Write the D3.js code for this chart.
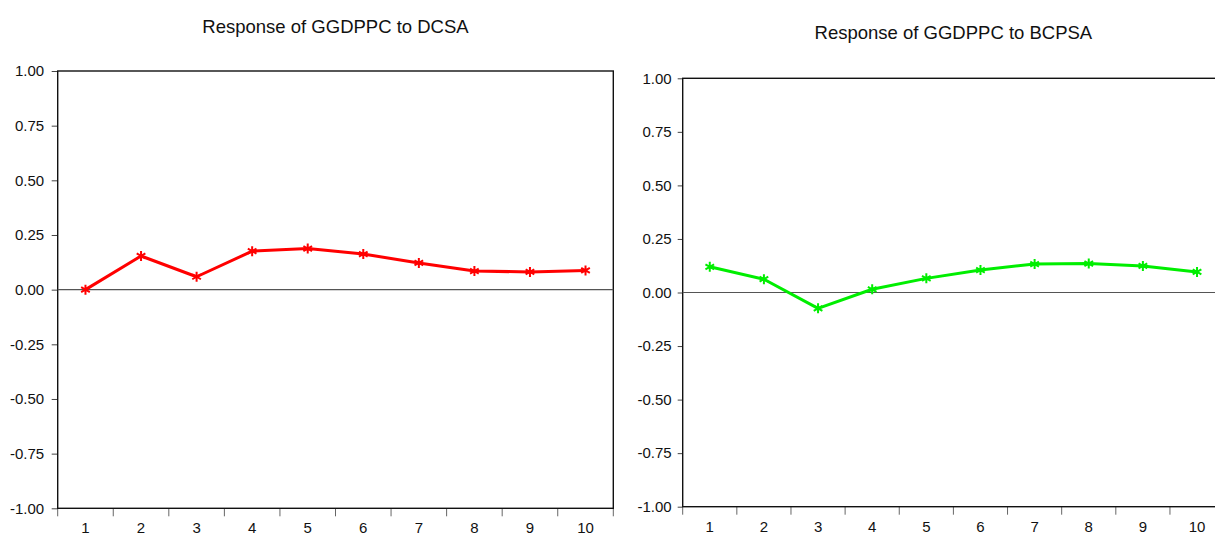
<!DOCTYPE html>
<html>
<head>
<meta charset="utf-8">
<script src="https://cdn.jsdelivr.net/npm/d3@7"></script>
<style>
  body { margin: 0; background: #fff; }
  svg { display: block; }
  text { font-family: "Liberation Sans", Arial, sans-serif; fill: #111; }
</style>
</head>
<body>
<div id="vis"></div>
<script>
const WIDTH = 1215;
const HEIGHT = 537;

// periodos del impulso-respuesta
const periodos = [1, 2, 3, 4, 5, 6, 7, 8, 9, 10];
const ticksY = [1.00, 0.75, 0.50, 0.25, 0.00, -0.25, -0.50, -0.75, -1.00];

// respuesta de GGDPPC a DCSA (rojo) y a BCPSA (verde)
const respuestaDCSA = [0.000, 0.154, 0.059, 0.176, 0.188, 0.163, 0.122, 0.085, 0.081, 0.088];
const respuestaBCPSA = [0.120, 0.062, -0.074, 0.015, 0.066, 0.105, 0.133, 0.135, 0.124, 0.096];

const SVG = d3.select("#vis").append("svg")
  .attr("width", WIDTH)
  .attr("height", HEIGHT);

// formato con guion normal, no el signo menos unicode
const formato = d => d3.format(".2f")(d).replace("\u2212", "-");

function panel(cfg) {
  const x = d3.scaleBand()
    .domain(periodos)
    .range([cfg.left, cfg.right]);

  const y = d3.scaleLinear()
    .domain([-1, 1])
    .range([cfg.bottom, cfg.top]);

  const g = SVG.append("g");

  // titulo
  g.append("text")
    .attr("x", (cfg.left + cfg.right) / 2)
    .attr("y", cfg.tituloY)
    .attr("text-anchor", "middle")
    .style("font-size", "18.5px")
    .text(cfg.titulo);

  // eje y con ticks hacia afuera
  const ejeY = g.append("g")
    .attr("transform", `translate(${cfg.left},0)`)
    .call(d3.axisLeft(y).tickValues(ticksY).tickFormat(formato)
      .tickSize(cfg.tickY).tickPadding(cfg.padY));
  ejeY.select(".domain").remove();
  ejeY.selectAll("line").attr("stroke", "#444");
  ejeY.selectAll("text")
    .style("font-size", "15px")
    .style("font-family", "'Liberation Sans', Arial, sans-serif");

  // ticks del eje x en los bordes de cada banda
  const bordes = periodos.map(p => x(p)).concat([x(periodos[periodos.length - 1]) + x.bandwidth()]);
  g.selectAll(".tickx")
    .data(bordes)
    .join("line")
    .attr("x1", d => d).attr("x2", d => d)
    .attr("y1", cfg.bottom).attr("y2", cfg.bottom + 8)
    .attr("stroke", "#666")
    .attr("stroke-width", 1);

  g.selectAll(".labelx")
    .data(periodos)
    .join("text")
    .attr("x", d => x(d) + x.bandwidth() / 2)
    .attr("y", cfg.labelXY)
    .attr("text-anchor", "middle")
    .style("font-size", "15px")
    .text(d => d);

  // marco
  g.append("rect")
    .attr("x", cfg.left).attr("y", cfg.top)
    .attr("width", cfg.right - cfg.left)
    .attr("height", cfg.bottom - cfg.top)
    .attr("fill", "none")
    .attr("stroke", "#111")
    .attr("stroke-width", 1.4);

  // linea del cero
  g.append("line")
    .attr("x1", cfg.left).attr("x2", cfg.right)
    .attr("y1", y(0)).attr("y2", y(0))
    .attr("stroke", "#555")
    .attr("stroke-width", 1.2);

  const linea = d3.line()
    .x((d, i) => x(periodos[i]) + x.bandwidth() / 2)
    .y(d => y(d));

  g.append("path")
    .datum(cfg.valores)
    .attr("d", linea)
    .attr("fill", "none")
    .attr("stroke", cfg.color)
    .attr("stroke-width", 3)
    .attr("stroke-linejoin", "round");

  const asterisco = d3.symbol().type(d3.symbolAsterisk).size(70);
  g.selectAll(".marca")
    .data(cfg.valores)
    .join("path")
    .attr("d", asterisco)
    .attr("transform", (d, i) => `translate(${x(periodos[i]) + x.bandwidth() / 2},${y(d)})`)
    .attr("fill", "none")
    .attr("stroke", cfg.color)
    .attr("stroke-width", 2);
}

panel({
  titulo: "Response of GGDPPC to DCSA",
  valores: respuestaDCSA,
  color: "#ff0000",
  left: 57.7, right: 613.3, top: 71, bottom: 508.3,
  tituloY: 33, labelXY: 533, tickY: 6, padY: 7.5
});

panel({
  titulo: "Response of GGDPPC to BCPSA",
  valores: respuestaBCPSA,
  color: "#00ee00",
  left: 682.7, right: 1224.1, top: 78.3, bottom: 506.7,
  tituloY: 39, labelXY: 532, tickY: 5, padY: 6
});
</script>
</body>
</html>
